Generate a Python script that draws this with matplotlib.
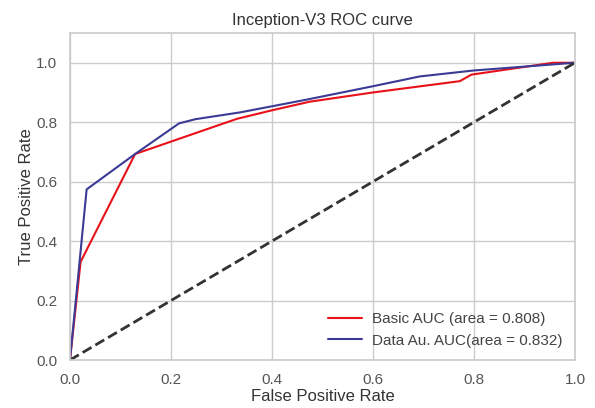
import matplotlib
matplotlib.use("Agg")
import matplotlib.pyplot as plt
import seaborn as sns

sns.set_theme(style="whitegrid")
plt.rcParams['font.family'] = ['Liberation Sans', 'DejaVu Sans']

basic_fpr = [0.0, 0.021, 0.129, 0.33, 0.40, 0.475, 0.60, 0.772, 0.795, 0.957, 1.0]
basic_tpr = [0.0, 0.33, 0.693, 0.811, 0.84, 0.869, 0.90, 0.938, 0.96, 1.0, 1.0]
aug_fpr = [0.0, 0.033, 0.129, 0.216, 0.248, 0.337, 0.469, 0.60, 0.693, 0.80, 1.0]
aug_tpr = [0.0, 0.574, 0.693, 0.796, 0.81, 0.833, 0.876, 0.921, 0.954, 0.974, 1.0]
diag = [0.0, 1.0]

fig = plt.figure(figsize=(5.95, 4.08), dpi=100)
ax = fig.add_axes([0.1176, 0.1176, 0.8487, 0.8015])
ax.plot(basic_fpr, basic_tpr, color='#e8111a', lw=1.5, label='Basic AUC (area = 0.808)')
ax.plot(aug_fpr, aug_tpr, color='#3b3b96', lw=1.5, label='Data Au. AUC(area = 0.832)')
ax.plot(diag, diag, color='#333333', lw=2, linestyle='--')
ax.set_xlim(0.0, 1.0)
ax.set_ylim(0.0, 1.1)
ax.set_yticks([0.0, 0.2, 0.4, 0.6, 0.8, 1.0])
ax.set_xticks([0.0, 0.2, 0.4, 0.6, 0.8, 1.0])
ax.tick_params(labelsize=11, colors='#555555', pad=3)
for s in ax.spines.values():
    s.set_color('#cccccc')
ax.set_xlabel('False Positive Rate', fontsize=12, color='#333333', labelpad=2)
ax.set_ylabel('True Positive Rate', fontsize=12, color='#333333', labelpad=2)
ax.set_title('Inception-V3 ROC curve', fontsize=12, color='#333333', pad=6)
leg = ax.legend(loc='lower right', fontsize=11, frameon=False, handlelength=2.2,
                handletextpad=0.7, labelspacing=0.5, borderaxespad=0.4)
for t in leg.get_texts():
    t.set_color('#444444')
fig.savefig('out.png', dpi=100)
